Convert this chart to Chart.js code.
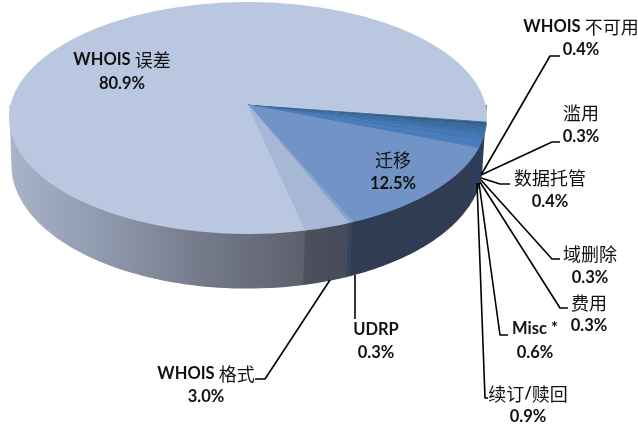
<!DOCTYPE html>
<html>
<head>
<meta charset="utf-8">
<script src="https://cdn.jsdelivr.net/npm/chart.js@4"></script>
<style>
  body { margin: 0; background: #fff; }
  canvas { display: block; }
</style>
</head>
<body>
<canvas id="myChart" width="638" height="428"></canvas>
<script>
const categories = ["WHOIS 误差", "WHOIS 不可用", "滥用", "数据托管", "域删除", "费用", "Misc *", "续订/赎回", "迁移", "UDRP", "WHOIS 格式"];
const shares = [80.9, 0.4, 0.3, 0.4, 0.3, 0.3, 0.6, 0.9, 12.5, 0.3, 3.0];
const sliceColors = ["#b9c7e0", "#34608f", "#386796", "#3b6b9f", "#3e70a8", "#4174af", "#4478b5", "#4a7dbb", "#7193c5", "#8aa3cc", "#a7b7d6"];

// where the pie sits in the picture
const top3d = { x: 248, y: 105, rx: 238, ryUp: 103, ryDown: 129 };
const outline = { x: 248, y: 118, rx: 239, ry: 116 };
const bottom3d = { x: 247, y: 165, rx: 235, ry: 123 };

// label centres and leader lines, same order as categories
const labelPos = [
  [122, 60, 84], [581, 27, 50], [581, 113, 137], [550, 178, 202], [590, 254, 278], [589, 303, 326],
  [535, 329, 353], [528, 394, 417], [393, 160, 184], [376, 330, 353], [206, 374, 397]
];
const leaders = [
  null,
  [[481, 175], [550, 56], [560, 56]],
  [[481, 175], [552, 142], [560, 142]],
  [[481, 178], [500, 184], [510, 184]],
  [[481, 180], [552, 259], [560, 259]],
  [[480, 182], [560, 308], [568, 308]],
  [[479, 183], [500, 335], [508, 335]],
  [[477, 183], [485, 398], [488, 398]],
  null,
  [[355, 275], [355, 319]],
  [[330, 280], [265, 379], [255, 379]]
];

const latinFont = 'bold 16.5px Lato, sans-serif';
const cjkFont = '18px "Noto Sans CJK SC", sans-serif';

function wallFill(ctx, i) {
  if (i === 0) {
    const g = ctx.createLinearGradient(9, 0, 486, 0);
    g.addColorStop(0, "#a9b4c8");
    g.addColorStop(0.2, "#8f99ad");
    g.addColorStop(0.4, "#757b8b");
    g.addColorStop(0.62, "#5e616d");
    g.addColorStop(0.75, "#2f3c53");
    return g;
  }
  if (i === 10) {
    const g = ctx.createLinearGradient(305, 0, 355, 0);
    g.addColorStop(0, "#4d505c");
    g.addColorStop(1, "#454a59");
    return g;
  }
  if (i === 9) return "#3b4559";
  return i === 8 ? "#2f3c53" : "#2d3e5a";
}

function drawWall(ctx, arc, i) {
  const p = arc.getProps(["startAngle", "endAngle"], true);
  for (const shift of [-2 * Math.PI, 0, 2 * Math.PI]) {
    const a0 = Math.max(p.startAngle + shift, 0);
    const a1 = Math.min(p.endAngle + shift, Math.PI);
    if (a1 <= a0) continue;
    ctx.beginPath();
    for (let s = 0; s <= 60; s++) {
      const t = a0 + (a1 - a0) * s / 60;
      ctx.lineTo(top3d.x + top3d.rx * Math.cos(t), top3d.y + top3d.ryDown * Math.sin(t));
    }
    for (let s = 60; s >= 0; s--) {
      const t = a0 + (a1 - a0) * s / 60;
      ctx.lineTo(bottom3d.x + bottom3d.rx * Math.cos(t), bottom3d.y + bottom3d.ry * Math.sin(t));
    }
    ctx.closePath();
    const fill = wallFill(ctx, i);
    ctx.fillStyle = fill;
    ctx.strokeStyle = fill;
    ctx.lineWidth = 1.2;
    ctx.fill();
    ctx.stroke();
  }
}

// Latin is bold, CJK is a larger regular weight, so draw the label run by run
function drawLabel(ctx, text, cx, cy) {
  const runs = text.match(/[\u4e00-\u9fff]+|[^\u4e00-\u9fff]+/g);
  const fontOf = run => /[\u4e00-\u9fff]/.test(run) ? cjkFont : latinFont;
  let width = 0;
  runs.forEach(run => {
    ctx.font = fontOf(run);
    width += ctx.measureText(run).width;
  });
  let x = cx - width / 2;
  runs.forEach(run => {
    ctx.font = fontOf(run);
    ctx.fillText(run, x, cy);
    x += ctx.measureText(run).width;
  });
}

const pie3d = {
  id: "pie3d",
  beforeDatasetDraw(chart, args) {
    const ctx = chart.ctx;
    const arcs = args.meta.data;
    arcs.forEach((arc, i) => drawWall(ctx, arc, i));

    // top face: the apex is off the ellipse centre, so each half gets its own y scale,
    // drawn a bit oversize and cut back to the real outline
    const first = arcs[0].getProps(["x", "y", "outerRadius"], true);
    const over = 1.06;
    ctx.save();
    ctx.beginPath();
    ctx.ellipse(outline.x, outline.y, outline.rx, outline.ry, 0, 0, 2 * Math.PI);
    ctx.clip();
    for (const half of ["up", "down"]) {
      const ry = half === "up" ? top3d.ryUp : top3d.ryDown;
      ctx.save();
      ctx.beginPath();
      if (half === "up") ctx.rect(0, 0, 638, top3d.y + 0.5);
      else ctx.rect(0, top3d.y - 0.5, 638, 428);
      ctx.clip();
      ctx.translate(top3d.x, top3d.y);
      ctx.scale(over * top3d.rx / first.outerRadius, over * ry / first.outerRadius);
      ctx.translate(-first.x, -first.y);
      arcs.forEach(arc => arc.draw(ctx));
      ctx.restore();
    }
    ctx.restore();
    return false;
  },
  afterDraw(chart) {
    const ctx = chart.ctx;
    ctx.save();
    ctx.strokeStyle = "#000";
    ctx.lineWidth = 1.6;
    ctx.lineJoin = "round";
    leaders.forEach(line => {
      if (!line) return;
      ctx.beginPath();
      line.forEach(pt => ctx.lineTo(pt[0], pt[1]));
      ctx.stroke();
    });
    ctx.fillStyle = "#111";
    ctx.textAlign = "left";
    ctx.textBaseline = "middle";
    categories.forEach((name, i) => {
      const pos = labelPos[i];
      drawLabel(ctx, name, pos[0], pos[1]);
      drawLabel(ctx, shares[i].toFixed(1) + "%", pos[0], pos[2]);
    });
    ctx.restore();
  }
};

new Chart(document.getElementById("myChart").getContext("2d"), {
  type: "pie",
  data: {
    labels: categories,
    datasets: [{ data: shares, backgroundColor: sliceColors, borderColor: sliceColors, borderWidth: 1 }]
  },
  options: {
    responsive: false,
    animation: false,
    rotation: 166,
    plugins: { legend: { display: false }, tooltip: { enabled: false } }
  },
  plugins: [pie3d]
});
</script>
</body>
</html>
